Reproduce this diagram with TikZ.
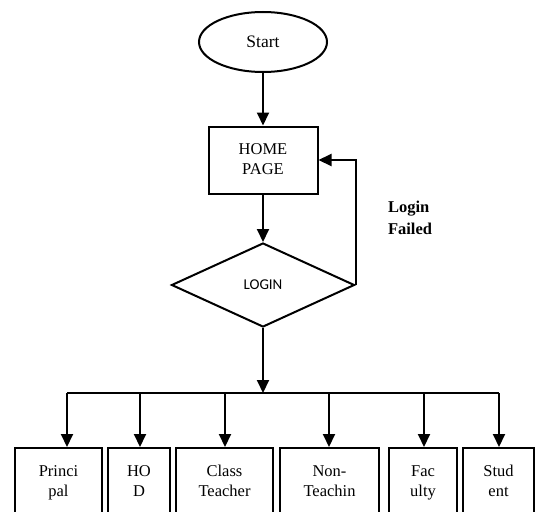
\documentclass[tikz,border=0pt]{standalone}
\usepackage{fontspec}
\setmainfont{Liberation Serif}
\newfontfamily\loginfont{Carlito}
\usetikzlibrary{shapes.geometric,arrows.meta}
\begin{document}
\begin{tikzpicture}[x=1pt,y=-1pt,line width=2pt,
    font=\fontsize{16.5}{20}\selectfont,
    arr/.style={-{Triangle[length=13pt,width=12pt]}},
    box/.style={draw,rectangle,inner sep=0pt,align=center,minimum height=68pt}]
      \useasboundingbox (0,0) rectangle (535,511);
      \clip (0,0) rectangle (535,511);
      \draw
        (263,42) node[draw,ellipse,minimum width=128pt,minimum height=60pt,inner sep=0pt,font=\fontsize{17.5}{20}\selectfont] (start){Start}
        (263,160) node[box,minimum width=109pt,minimum height=67pt] (home){\strut HOME\\\strut PAGE}
        (263,285) node[draw,diamond,minimum width=183pt,minimum height=84pt,inner sep=0pt,font=\loginfont\fontsize{15}{18}\selectfont] (login){LOGIN}
        (410,218) node[align=left,font=\bfseries\fontsize{16.5}{22}\selectfont] (failed){Login\\Failed}
        (58.5,482) node[box,minimum width=87pt] (principal){\strut Princi\\\strut pal}
        (139,482) node[box,minimum width=62pt] (hod){\strut HO\\\strut D}
        (224.5,482) node[box,minimum width=97pt] (classteacher){\strut Class\\\strut Teacher}
        (329.5,482) node[box,minimum width=99pt] (nonteaching){\strut Non-\\\strut Teachin}
        (423,482) node[box,minimum width=68pt] (faculty){\strut Fac\\\strut ulty}
        (498.5,482) node[box,minimum width=71pt] (student){\strut Stud\\\strut ent};
      \coordinate (bus) at (263,393);
      \coordinate (b1) at (67,393);
      \coordinate (b2) at (140,393);
      \coordinate (b3) at (225,393);
      \coordinate (b4) at (329,393);
      \coordinate (b5) at (424,393);
      \coordinate (b6) at (499,393);
      \begin{scope}[arr]
        \draw (start) to (home);
        \draw (home) to (login);
        \draw (login.east) -- (login.east |- home.east) -- (home.east);
        \draw (login.south) to (bus);
        \draw (b1) to (b1 |- principal.north);
        \draw (b2) to (b2 |- hod.north);
        \draw (b3) to (b3 |- classteacher.north);
        \draw (b4) to (b4 |- nonteaching.north);
        \draw (b5) to (b5 |- faculty.north);
        \draw (b6) to (b6 |- student.north);
      \end{scope}
      \draw (b1) -- (b6);
    \end{tikzpicture}
\end{document}
